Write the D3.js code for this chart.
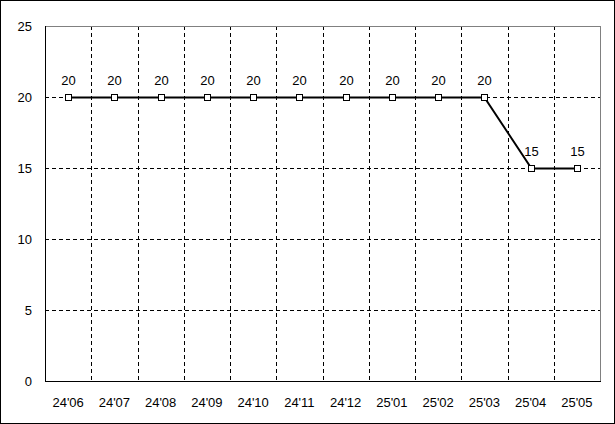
<!DOCTYPE html>
<html><head><meta charset="utf-8">
<script src="https://cdn.jsdelivr.net/npm/d3@7"></script>
<style>body{margin:0;background:#fff}svg{display:block}text{font-family:"Liberation Sans",Arial,sans-serif;font-size:13px;fill:#000}</style>
</head><body>
<script>
const categories = ["24'06","24'07","24'08","24'09","24'10","24'11","24'12","25'01","25'02","25'03","25'04","25'05"];
const values = [20,20,20,20,20,20,20,20,20,20,15,15];
const yTicks = [0,5,10,15,20,25];

const W = 615, H = 424;
const m = {l:45, t:26, r:600, b:381};
const svg = d3.select("body").append("svg").attr("width",W).attr("height",H);
svg.append("rect").attr("x",0.5).attr("y",0.5).attr("width",W-1).attr("height",H-1).attr("fill","#fff").attr("stroke","#000");

const x = d3.scaleBand().domain(categories).range([m.l,m.r]);
const y = d3.scaleLinear().domain([0,25]).range([m.b,m.t]);

// horizontal grid
svg.append("g").selectAll("line").data(yTicks.filter(v=>v>0&&v<25)).join("line")
  .attr("x1",m.l).attr("x2",m.r).attr("y1",d=>Math.round(y(d))+0.5).attr("y2",d=>Math.round(y(d))+0.5)
  .attr("stroke","#000").attr("stroke-dasharray","4,3");
// vertical grid
svg.append("g").selectAll("line").data(categories.slice(1)).join("line")
  .attr("x1",d=>Math.round(x(d))+0.5).attr("x2",d=>Math.round(x(d))+0.5).attr("y1",m.t).attr("y2",m.b)
  .attr("stroke","#000").attr("stroke-dasharray","4,3");
// frame
svg.append("line").attr("x1",m.l).attr("x2",m.r+0.5).attr("y1",m.t+0.5).attr("y2",m.t+0.5).attr("stroke","#808080");
svg.append("line").attr("x1",m.r+0.5).attr("x2",m.r+0.5).attr("y1",m.t).attr("y2",m.b).attr("stroke","#808080");
svg.append("line").attr("x1",m.l+0.5).attr("x2",m.l+0.5).attr("y1",m.t).attr("y2",m.b+0.5).attr("stroke","#000");
svg.append("line").attr("x1",m.l).attr("x2",m.r+1).attr("y1",m.b+0.5).attr("y2",m.b+0.5).attr("stroke","#000");

// y labels
svg.append("g").selectAll("text").data(yTicks).join("text")
  .attr("x",32).attr("y",d=>y(d)).attr("dy","0.35em").attr("text-anchor","end").attr("font-size",15).text(d=>d);
// x labels
svg.append("g").selectAll("text").data(categories).join("text")
  .attr("x",d=>x(d)+x.bandwidth()/2).attr("y",402).attr("dy","0.35em").attr("text-anchor","middle").attr("font-size",12).text(d=>d);

const cx = (d,i)=>Math.round(x(categories[i])+x.bandwidth()/2)+0.5;
const line = d3.line().x((d,i)=>cx(d,i)).y(d=>Math.round(y(d))+0.5);
svg.append("path").datum(values).attr("d",line).attr("fill","none").attr("stroke","#000").attr("stroke-width",2);
svg.append("g").selectAll("rect").data(values).join("rect")
  .attr("x",(d,i)=>cx(d,i)-3).attr("y",d=>Math.round(y(d))+0.5-3).attr("width",6).attr("height",6)
  .attr("fill","#fff").attr("stroke","#000");
svg.append("g").selectAll("text").data(values).join("text")
  .attr("x",(d,i)=>cx(d,i)).attr("y",d=>y(d)-17).attr("dy","0.35em").attr("text-anchor","middle").attr("font-size",15).text(d=>d);
</script>
</body></html>
